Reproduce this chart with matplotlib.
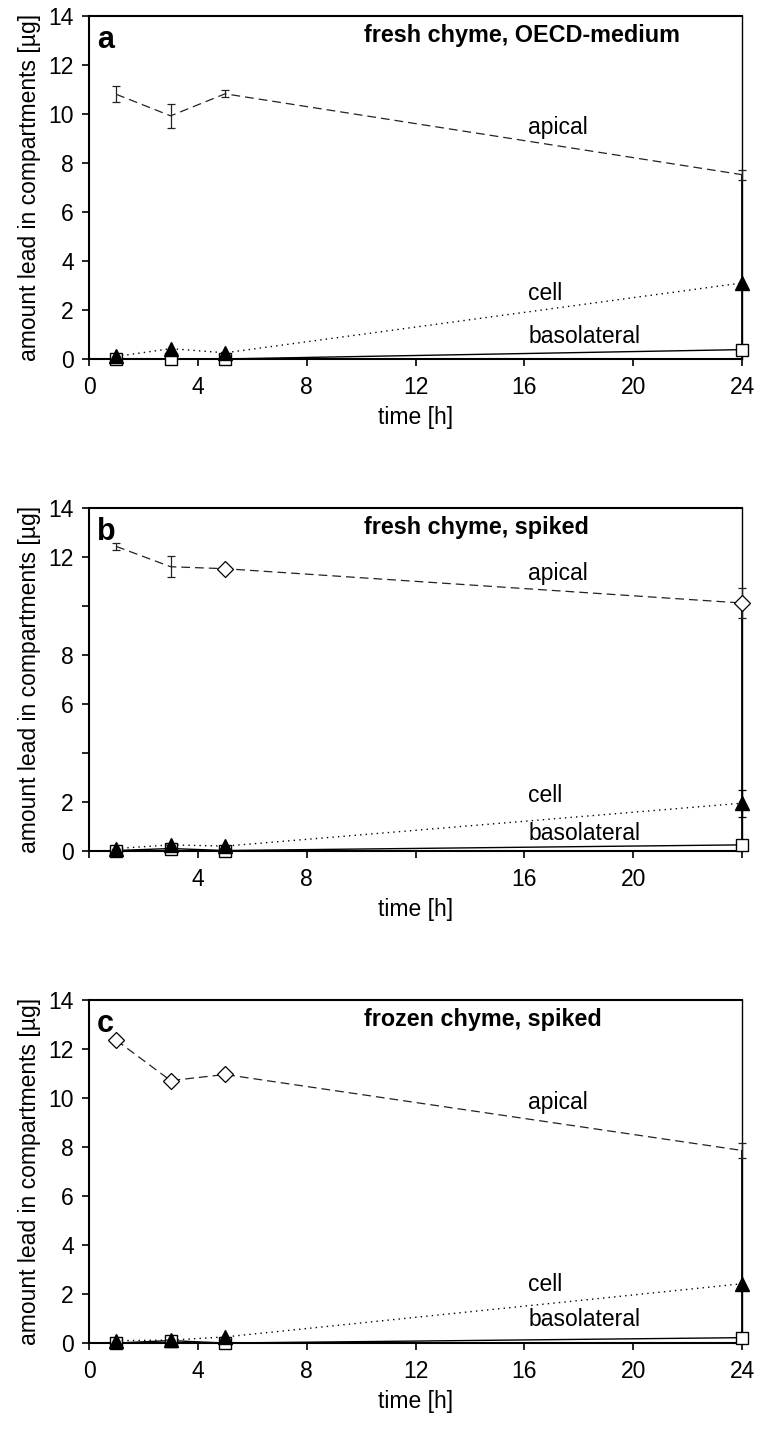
import matplotlib
matplotlib.use("Agg")
import matplotlib.pyplot as plt

plt.rcParams['font.family'] = ['Liberation Sans', 'DejaVu Sans']

time = [1, 3, 5, 24]

# panel a: fresh chyme, OECD-medium
apical_a = [10.8, 9.92, 10.82, 7.52]
apical_a_err = [0.33, 0.5, 0.15, 0.2]
cell_a = [0.1, 0.42, 0.25, 3.1]
baso_a = [0.0, 0.0, 0.0, 0.38]

# panel b: fresh chyme, spiked
apical_b = [12.43, 11.6, 11.52, 10.12]
apical_b_err = [0.15, 0.43, 0.0, 0.63]
cell_b = [0.1, 0.25, 0.2, 1.95]
cell_b_err = [0.0, 0.0, 0.0, 0.55]
baso_b = [0.02, 0.1, 0.02, 0.25]

# panel c: frozen chyme, spiked
apical_c = [12.36, 10.71, 10.96, 7.86]
apical_c_err = [0.0, 0.0, 0.0, 0.3]
cell_c = [0.1, 0.12, 0.25, 2.42]
baso_c = [0.0, 0.1, 0.0, 0.22]

letters = ['a', 'b', 'c']
titles = ['fresh chyme, OECD-medium', 'fresh chyme, spiked', 'frozen chyme, spiked']
apical_markers = [[], [2, 3], [0, 1, 2]]

xticks = [0, 4, 8, 12, 16, 20, 24]
yticks = [0, 2, 4, 6, 8, 10, 12, 14]
xlabels_all = ['0', '4', '8', '12', '16', '20', '24']
ylabels_all = ['0', '2', '4', '6', '8', '10', '12', '14']
xlabels_b = ['', '4', '8', '', '16', '20', '']
ylabels_b = ['0', '2', '', '6', '8', '', '12', '14']

# baseline heights of the apical / cell / basolateral labels
label_y = [[9.18, 2.4, 0.65], [11.07, 2.01, 0.45], [9.55, 2.14, 0.68]]

apical = [apical_a, apical_b, apical_c]
apical_err = [apical_a_err, apical_b_err, apical_c_err]
cell = [cell_a, cell_b, cell_c]
cell_err = [None, cell_b_err, None]
baso = [baso_a, baso_b, baso_c]
xlabs = [xlabels_all, xlabels_b, xlabels_all]
ylabs = [ylabels_all, ylabels_b, ylabels_all]

fig = plt.figure(figsize=(7.57, 14.3), dpi=100)
bottoms = [0.749, 0.4049, 0.0608]
fs = 16.5

for i in range(3):
    ax = fig.add_axes([0.1176, bottoms[i], 0.8626, 0.2399])

    # drop line at the last time point
    ax.vlines(time[-1], 0, apical[i][-1], color='black', lw=1.3, zorder=2)

    ax.plot(time, baso[i], color='black', lw=1.0, marker='s', ms=9,
            mfc='white', mec='black', mew=1.0, zorder=3, clip_on=False)
    ax.errorbar(time, apical[i], yerr=apical_err[i], color='#222222', lw=0.9,
                ls=(0, (7, 4)), elinewidth=0.9, capsize=3, capthick=0.9,
                marker='D' if apical_markers[i] else '',
                markevery=apical_markers[i] if apical_markers[i] else None,
                ms=8, mfc='white', mec='black', mew=0.9, zorder=4, clip_on=False)
    ax.errorbar(time, cell[i], yerr=cell_err[i], color='black', lw=1.0,
                ls=(0, (1, 3)), elinewidth=0.9, capsize=3, capthick=0.9,
                marker='^', ms=10, mfc='black', mec='black', zorder=5, clip_on=False)

    ax.set_xlim(0, 24)
    ax.set_ylim(0, 14)
    ax.set_xticks(xticks)
    ax.set_xticklabels(xlabs[i])
    ax.set_yticks(yticks)
    ax.set_yticklabels(ylabs[i])
    ax.tick_params(direction='out', length=5, width=1.2, labelsize=fs, pad=7)
    ax.tick_params(axis='y', pad=6)

    for side in ['left', 'bottom', 'top']:
        ax.spines[side].set_linewidth(1.5)
    ax.spines['right'].set_linewidth(1.0)

    ax.set_xlabel('time [h]', fontsize=fs, labelpad=5)
    ax.set_ylabel('amount lead in compartments [µg]', fontsize=fs, labelpad=5)

    ax.text(0.3, 12.7, letters[i], fontsize=22, fontweight='bold', va='baseline')
    ax.text(10.1, 12.95, titles[i], fontsize=16.8, fontweight='bold', va='baseline')

    ax.text(16.15, label_y[i][0], 'apical', fontsize=fs, va='baseline')
    ax.text(16.15, label_y[i][1], 'cell', fontsize=fs, va='baseline')
    ax.text(16.15, label_y[i][2], 'basolateral', fontsize=fs, va='baseline')

fig.savefig('out.png', dpi=100)
